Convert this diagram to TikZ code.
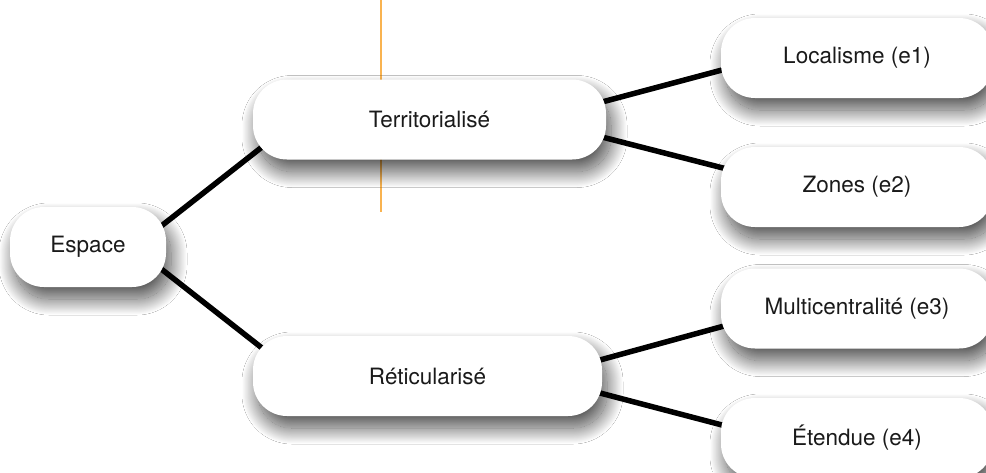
\documentclass[tikz,border=0pt]{standalone}
\usepackage{fontspec}
\setmainfont{TeX Gyre Heros}
\usetikzlibrary{calc,shadows.blur,backgrounds}
\definecolor{orangeline}{HTML}{F9B350}
\definecolor{txt}{HTML}{1A1A1A}
\tikzset{
  box/.style={fill=white, draw=none, rounded corners=34pt, minimum height=80pt,
    inner sep=0pt, text=txt, font=\fontsize{22.5}{26}\selectfont,
    blur shadow={shadow xshift=5pt, shadow yshift=-12pt, shadow blur radius=16pt,
      shadow opacity=70, shadow blur steps=50}},
  conn/.style={line width=5.5pt, black, shorten <=-8pt, shorten >=-8pt},
  guide/.style={orangeline, line width=1.6pt}
}
\begin{document}
\begin{tikzpicture}[x=1pt,y=-1pt]
\useasboundingbox (0,0) rectangle (986,472);
\coordinate (gtop) at (381,0);
\coordinate (gbot) at (381,212);
\node[box, minimum width=156pt] (esp) at (88,247) {Espace};
\node[box, minimum width=353pt] (ter) at (429.5,119.5) {Territorialisé};
\node[box, minimum width=349pt] (ret) at (427.5,376) {Réticularisé};
\node[box, minimum width=272pt] (loc) at (857,58) {Localisme (e1)};
\node[box, minimum width=272pt] (zon) at (857,187) {Zones (e2)};
\node[box, minimum width=272pt] (mul) at (857,308.5) {Multicentralité (e3)};
\node[box, minimum width=272pt] (ete) at (857,438) {Étendue (e4)};
\begin{scope}[on background layer]
\fill[white] (0,0) rectangle (986,472);
\draw[guide] (gtop) -- (gbot);
\draw[conn] ($(esp.center)+(72,-20)$) -- ($(ter.center)+(-167.5,27.5)$);
\draw[conn] ($(esp.center)+(72,21)$) -- ($(ret.center)+(-165.5,-28)$);
\draw[conn] ($(ter.center)+(172.5,-17.5)$) -- ($(loc.center)+(-135,12)$);
\draw[conn] ($(ter.center)+(172.5,17.5)$) -- ($(zon.center)+(-134,-19)$);
\draw[conn] ($(ret.center)+(172.5,-16)$) -- ($(mul.center)+(-133,17.5)$);
\draw[conn] ($(ret.center)+(172.5,17)$) -- ($(ete.center)+(-135,-13)$);
\end{scope}
\end{tikzpicture}
\end{document}
